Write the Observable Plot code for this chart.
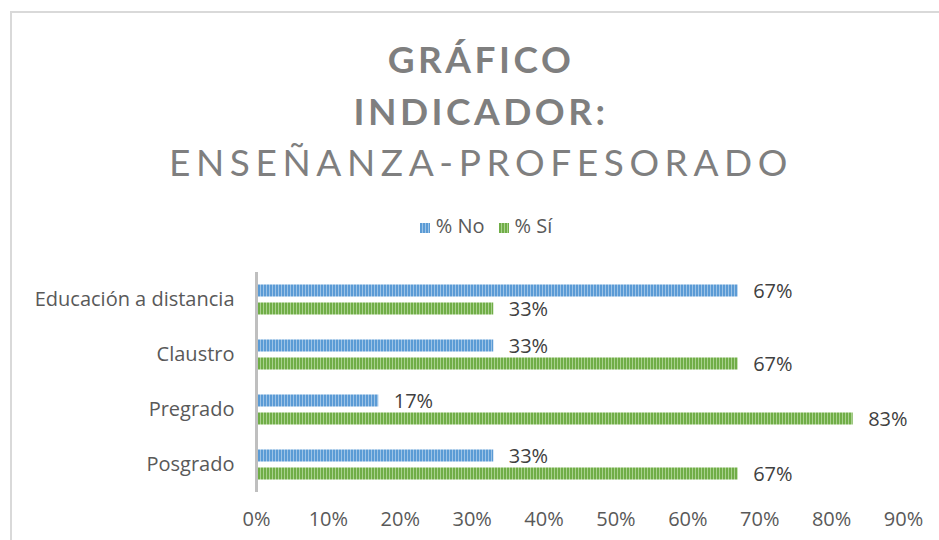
<!DOCTYPE html>
<html><head><meta charset="utf-8">
<script src="https://cdn.jsdelivr.net/npm/d3@7"></script>
<script src="https://cdn.jsdelivr.net/npm/@observablehq/plot@0.6"></script>
<style>
body{margin:0;background:#fff;width:939px;height:540px;overflow:hidden;position:relative;font-family:"Open Sans",Lato,sans-serif}
#frame{position:absolute;left:10px;top:11px;width:1000px;height:600px;border-left:2px solid #d9d9d9;border-top:2px solid #d9d9d9;box-sizing:border-box}
.t{position:absolute;left:0;width:962px;text-align:center;color:#7f7f7f;font-family:Lato,sans-serif;font-size:37px;line-height:37px;white-space:nowrap}
#t1{top:40px;font-weight:bold;letter-spacing:3.5px}
#t2{top:92px;font-weight:bold;letter-spacing:3.5px}
#t3{top:143px;font-weight:normal;letter-spacing:5.6px}
#legend{position:absolute;left:0;width:972px;top:213px;text-align:center;font-size:20px;line-height:26px;color:#595959}
#legend span.item{display:inline-block;margin:0 7px}
#legend svg{vertical-align:0px;margin-right:6px}
#chart{position:absolute;left:0;top:260px}
</style></head>
<body>
<div id="frame"></div>
<div class="t" id="t1">GRÁFICO</div>
<div class="t" id="t2">INDICADOR:</div>
<div class="t" id="t3">ENSEÑANZA-PROFESORADO</div>
<div id="legend"></div>
<div id="chart"></div>
<script>
const categories = ["Educación a distancia", "Claustro", "Pregrado", "Posgrado"];
const pctNo = [67, 33, 17, 33];
const pctSi = [33, 67, 83, 67];
const seriesNames = ["% No", "% Sí"];
const xTicks = [0, 10, 20, 30, 40, 50, 60, 70, 80, 90];

const rows = categories.map((c, i) => ({cat: c, no: pctNo[i], si: pctSi[i]}));

const svg = Plot.plot({
  width: 939,
  height: 280,
  marginLeft: 256,
  marginRight: 36,
  marginTop: 12,
  marginBottom: 48,
  style: {fontFamily: "'Open Sans', sans-serif", fontSize: "20px", color: "#595959", background: "transparent", overflow: "visible"},
  x: {domain: [0, 90], ticks: xTicks, tickFormat: d => d + "%", tickSize: 0, tickPadding: 19, label: null},
  y: {domain: categories, padding: 0, tickSize: 0, tickPadding: 22, label: null},
  marks: [
    Plot.barX(rows, {x: "no", y: "cat", fill: "url(#patNo)", insetTop: 12.5, insetBottom: 30.5}),
    Plot.barX(rows, {x: "si", y: "cat", fill: "url(#patSi)", insetTop: 30.5, insetBottom: 12.5}),
    Plot.ruleX([0], {stroke: "#bfbfbf", strokeWidth: 3}),
    Plot.text(rows, {x: "no", y: "cat", text: d => d.no + "%", dy: -8, dx: 15, textAnchor: "start", fill: "#404040", fontSize: 20}),
    Plot.text(rows, {x: "si", y: "cat", text: d => d.si + "%", dy: 10, dx: 15, textAnchor: "start", fill: "#404040", fontSize: 20})
  ]
});

function addPatterns(sel) {
  const defs = sel.insert("defs", ":first-child");
  [["patNo", "#5b9bd5", "#9dc3e6"], ["patSi", "#70ad47", "#a9d18e"]].forEach(([id, dark, light]) => {
    const p = defs.append("pattern").attr("id", id).attr("patternUnits", "userSpaceOnUse")
      .attr("width", 3).attr("height", 20);
    p.append("rect").attr("width", 3).attr("height", 20).attr("fill", dark);
    p.append("rect").attr("x", 2).attr("width", 1).attr("height", 20).attr("fill", light);
  });
}
addPatterns(d3.select(svg));
document.getElementById("chart").appendChild(svg);

const leg = d3.select("#legend");
seriesNames.forEach((name, i) => {
  const item = leg.append("span").attr("class", "item");
  const s = item.append("svg").attr("width", 10).attr("height", 10);
  s.append("rect").attr("width", 10).attr("height", 10).attr("fill", i === 0 ? "url(#patNo)" : "url(#patSi)");
  item.append("span").text(name);
});
</script>
</body></html>
